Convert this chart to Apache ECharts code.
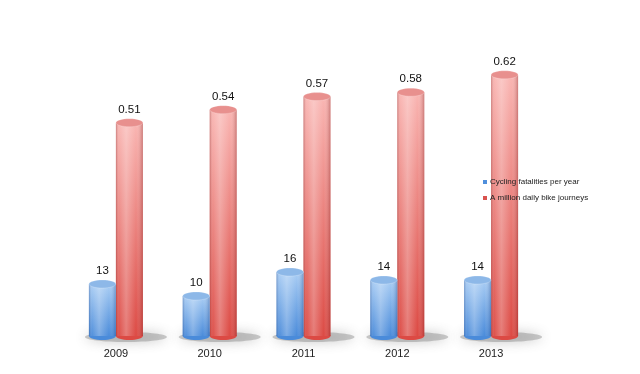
<!DOCTYPE html>
<html>
<head>
<meta charset="utf-8">
<script src="https://cdn.jsdelivr.net/npm/echarts@6/dist/echarts.min.js"></script>
<style>
html,body{margin:0;padding:0;background:#fff;}
#main{width:640px;height:374px;}
</style>
</head>
<body>
<div id="main"></div>
<script>
const categories = ['2009', '2010', '2011', '2012', '2013'];
const fatalities = [13, 10, 16, 14, 14];
const journeys = [0.51, 0.54, 0.57, 0.58, 0.62];
const seriesNames = ['Cycling fatalities per year', 'A million daily bike journeys'];

const FONT = 'Liberation Sans, Arial, sans-serif';
const BAR_W = 27;
const RY = 4;

const blueStyle = {
  top: '#8db8e8', bodyTop: '#a9cdf4', bodyBottom: '#4a8bda', shadowEdge: 'rgba(20,60,130,0.35)', legend: '#4f8fdc'
};
const redStyle = {
  top: '#e8908e', bodyTop: '#f9b5b2', bodyBottom: '#dc4a44', shadowEdge: 'rgba(120,20,20,0.35)', legend: '#d9534f'
};

function cylinder(side, st, axisMin, fmt) {
  return function (params, api) {
    const idx = api.value(0);
    const v = api.value(1);
    const top = api.coord([idx, v]);
    const base = api.coord([idx, axisMin]);
    const x0 = side < 0 ? top[0] - BAR_W : top[0];
    const cx = x0 + BAR_W / 2;
    const h = base[1] - top[1];
    return {
      type: 'group',
      children: [
        {
          type: 'ellipse',
          shape: { cx: cx, cy: base[1], rx: BAR_W / 2, ry: RY },
          style: { fill: st.bodyBottom }
        },
        {
          type: 'rect',
          shape: { x: x0, y: top[1], width: BAR_W, height: h },
          style: {
            fill: new echarts.graphic.LinearGradient(0, 0, 0, 1, [
              { offset: 0, color: st.bodyTop },
              { offset: 1, color: st.bodyBottom }
            ])
          }
        },
        {
          type: 'rect',
          shape: { x: x0, y: top[1], width: BAR_W, height: h },
          style: {
            fill: new echarts.graphic.LinearGradient(0, 0, 1, 0, [
              { offset: 0, color: st.shadowEdge },
              { offset: 0.12, color: 'rgba(255,255,255,0.05)' },
              { offset: 0.38, color: 'rgba(255,255,255,0.28)' },
              { offset: 0.75, color: 'rgba(255,255,255,0.0)' },
              { offset: 1, color: st.shadowEdge }
            ])
          }
        },
        {
          type: 'ellipse',
          shape: { cx: cx, cy: top[1], rx: BAR_W / 2, ry: RY },
          style: { fill: st.top, stroke: 'rgba(255,255,255,0.35)', lineWidth: 0.6 }
        },
        {
          type: 'text',
          style: {
            text: fmt(v),
            x: cx,
            y: top[1] - RY - 3,
            align: 'center',
            verticalAlign: 'bottom',
            fill: '#111',
            font: '11.5px ' + FONT
          }
        }
      ]
    };
  };
}

function shadowItem(params, api) {
  const idx = api.value(0);
  const base = api.coord([idx, 0]);
  const cx = base[0] + 10;
  return {
    type: 'ellipse',
    shape: { cx: cx, cy: base[1] + 1, rx: BAR_W + 14, ry: 5 },
    style: {
      fill: 'rgba(110,110,110,0.35)',
      shadowBlur: 12,
      shadowColor: 'rgba(80,80,80,0.9)'
    }
  };
}

const chart = echarts.init(document.getElementById('main'), null, { renderer: 'canvas' });

const BLUE_MIN = 0, BLUE_MAX = 74;
const RED_MIN = 0.02, RED_MAX = 0.70;

chart.setOption({
  backgroundColor: '#ffffff',
  animation: false,
  legend: {
    orient: 'vertical',
    left: 478,
    top: 173,
    itemWidth: 4,
    itemHeight: 4,
    itemGap: 8,
    icon: 'rect',
    textStyle: { fontSize: 8, fontFamily: FONT, color: '#222', padding: [0, 0, 0, -2] },
    data: [
      { name: seriesNames[0], itemStyle: { color: blueStyle.legend } },
      { name: seriesNames[1], itemStyle: { color: redStyle.legend } }
    ]
  },
  grid: { left: 69, right: 102, top: 40, bottom: 38 },
  xAxis: {
    type: 'category',
    data: categories,
    axisLine: { show: false },
    axisTick: { show: false },
    axisLabel: { fontSize: 11, fontFamily: FONT, color: '#222', margin: 12 }
  },
  yAxis: [
    { type: 'value', min: BLUE_MIN, max: BLUE_MAX, show: false, splitLine: { show: false } },
    { type: 'value', min: RED_MIN, max: RED_MAX, show: false, splitLine: { show: false } }
  ],
  series: [
    {
      type: 'custom',
      name: 'shadow',
      yAxisIndex: 0,
      z: 1,
      silent: true,
      renderItem: shadowItem,
      data: fatalities.map((v, i) => [i, v])
    },
    {
      type: 'custom',
      name: seriesNames[0],
      yAxisIndex: 0,
      z: 3,
      itemStyle: { color: blueStyle.legend },
      renderItem: cylinder(-1, blueStyle, BLUE_MIN, v => String(v)),
      data: fatalities.map((v, i) => [i, v])
    },
    {
      type: 'custom',
      name: seriesNames[1],
      yAxisIndex: 1,
      z: 2,
      itemStyle: { color: redStyle.legend },
      renderItem: cylinder(1, redStyle, RED_MIN, v => v.toFixed(2)),
      data: journeys.map((v, i) => [i, v])
    }
  ]
});
</script>
</body>
</html>
